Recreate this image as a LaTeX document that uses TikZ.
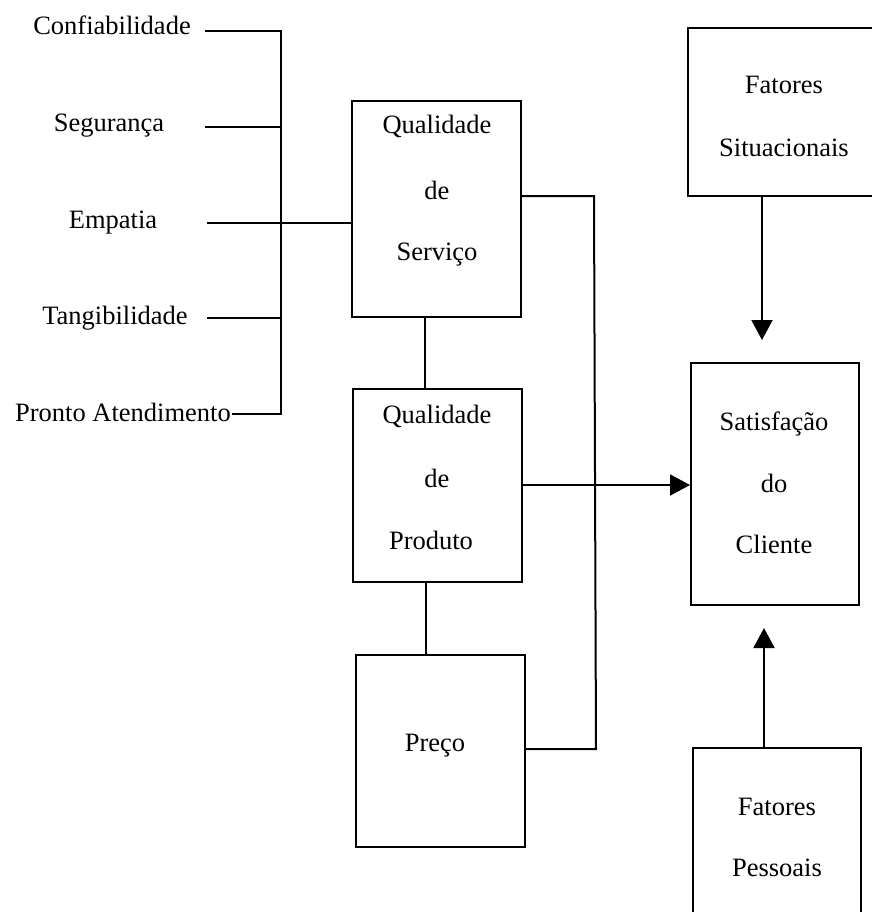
\documentclass[tikz,border=0pt]{standalone}
\usepackage{fontspec}
\setmainfont{Liberation Serif}
\usetikzlibrary{arrows.meta}
\begin{document}
\begin{tikzpicture}[x=0.5pt,y=-0.5pt,
  box/.style={draw, line width=1pt, inner sep=0pt},
  lbl/.style={anchor=base, inner sep=0pt, font=\fontsize{13.25}{15}\selectfont},
  wire/.style={line width=1pt},
  arr/.style={wire, -{Triangle[length=10pt,width=10.5pt]}}]
\useasboundingbox (0,0) rectangle (872,912);
\clip (0,0) rectangle (872,912);

% boxes
\node[box, minimum width=84.5pt, minimum height=108pt] (serv)  at (436.5,209)   {};
\node[box, minimum width=84.5pt, minimum height=96.5pt] (prod) at (437.5,485.5) {};
\node[box, minimum width=84.5pt, minimum height=96pt]  (preco) at (440.5,751)   {};
\node[box, minimum width=96.5pt, minimum height=84pt]  (situ)  at (784.5,112)   {};
\node[box, minimum width=84pt,   minimum height=121pt] (sat)   at (775,484)     {};
\node[box, minimum width=84pt,   minimum height=106pt] (pess)  at (777,854)     {};

% box texts
\node[lbl] (serv1) at (437,133) {Qualidade};
\node[lbl] (serv2) at (437,199) {de};
\node[lbl] (serv3) at (437,260) {Serviço};
\node[lbl] (prod1) at (437,423) {Qualidade};
\node[lbl] (prod2) at (437,487) {de};
\node[lbl] (prod3) at (431,549) {Produto};
\node[lbl] (preco1) at (435,751) {Preço};
\node[lbl] (situ1) at (784,93)  {Fatores};
\node[lbl] (situ2) at (784,156) {Situacionais};
\node[lbl] (sat1) at (774,430) {Satisfação};
\node[lbl] (sat2) at (774,492) {do};
\node[lbl] (sat3) at (774,553) {Cliente};
\node[lbl] (pess1) at (777,815) {Fatores};
\node[lbl] (pess2) at (777,876) {Pessoais};

% dimension labels
\node[lbl] (conf)   at (112,34)  {Confiabilidade};
\node[lbl] (seg)    at (109,131) {Segurança};
\node[lbl] (emp)    at (113,228) {Empatia};
\node[lbl] (tan)    at (115,324) {Tangibilidade};
\node[lbl] (pronto) at (123,421) {Pronto Atendimento};

% bracket joining the dimensions
\coordinate (conf-e)   at (205,31);
\coordinate (seg-e)    at (205,127);
\coordinate (emp-e)    at (207,223);
\coordinate (tan-e)    at (207,318);
\coordinate (pronto-e) at (232,414);
\coordinate (bar-top)  at (281,31);
\coordinate (bar-bot)  at (281,414);
\draw[wire] (conf-e) -- (bar-top) -- (bar-bot) -- (pronto-e);
\draw[wire] (seg-e) -- (seg-e -| bar-top);
\draw[wire] (tan-e) -- (tan-e -| bar-top);
\draw[wire] (emp-e) -- (emp-e -| serv.west);

% links between the quality boxes
\coordinate (sp) at (425,0);
\coordinate (pp) at (426,0);
\draw[wire] (serv.south -| sp) -- (prod.north -| sp);
\draw[wire] (prod.south -| pp) -- (preco.north -| pp);

% return bus from service and price
\coordinate (bus-t) at (594,196);
\coordinate (bus-b) at (596,749);
\draw[wire] (serv.east |- bus-t) -- (bus-t) -- (bus-b) -- (preco.east |- bus-b);

% arrows into satisfaction
\coordinate (ay) at (0,485);
\draw[arr] (prod.east |- ay) -- (sat.west |- ay);
\coordinate (tip1) at (762,340);
\draw[arr] (situ.south -| tip1) -- (tip1);
\coordinate (tip2) at (764,628);
\draw[arr] (pess.north -| tip2) -- (tip2);
\end{tikzpicture}
\end{document}
